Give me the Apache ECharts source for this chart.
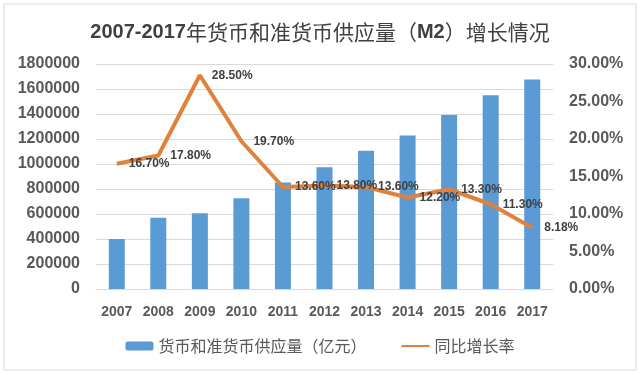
<!DOCTYPE html>
<html lang="zh">
<head>
    <meta charset="UTF-8">
    <title>M2增长情况</title>
    <script src="https://cdn.jsdelivr.net/npm/echarts@6/dist/echarts.min.js"></script>
    <style>
        html, body { margin: 0; padding: 0; background: #fff; }
        #chart { width: 640px; height: 375px; }
    </style>
</head>
<body>
    <div id="chart"></div>
    <script>
        // 年份
        var years = ['2007', '2008', '2009', '2010', '2011', '2012', '2013', '2014', '2015', '2016', '2017'];
        // 货币和准货币供应量（亿元）
        var m2Values = [400000, 570000, 606000, 726000, 852000, 974000, 1106000, 1228000, 1392000, 1550000, 1677000];
        // 同比增长率 (%)
        var growthRates = [16.7, 17.8, 28.5, 19.7, 13.6, 13.8, 13.6, 12.2, 13.3, 11.3, 8.18];

        var latin = 'Liberation Sans';
        var cjk = 'Noto Sans CJK SC';

        var myChart = echarts.init(document.getElementById('chart'));

        var option = {
            backgroundColor: '#fff',
            animation: false,
            graphic: [{
                type: 'rect',
                shape: { x: 4, y: 4, width: 632, height: 366 },
                style: { fill: 'none', stroke: '#d9d9d9', lineWidth: 1 },
                silent: true
            }],
            title: {
                text: '{b|2007-2017}{n|年货币和准货币供应量（}{b|M2}{n|）增长情况}',
                left: 'center',
                top: 17,
                textStyle: {
                    rich: {
                        b: { fontFamily: latin, fontWeight: 'bold', fontSize: 20, color: '#404040' },
                        n: { fontFamily: cjk, fontWeight: 'normal', fontSize: 21, color: '#404040' }
                    }
                }
            },
            legend: {
                bottom: 16,
                left: 'center',
                itemWidth: 28,
                itemHeight: 9,
                itemGap: 34,
                textStyle: { fontFamily: cjk, fontSize: 16, color: '#595959' },
                data: ['货币和准货币供应量（亿元）', '同比增长率']
            },
            grid: {
                left: 96,
                right: 87,
                top: 64,
                bottom: 86,
                outerBoundsMode: 'none'
            },
            xAxis: {
                type: 'category',
                data: years,
                axisLine: { show: true, lineStyle: { color: '#d9d9d9' } },
                axisTick: { show: false },
                axisLabel: {
                    fontFamily: latin, fontWeight: 'bold', fontSize: 14, color: '#595959', margin: 16
                }
            },
            yAxis: [{
                type: 'value',
                min: 0,
                max: 1800000,
                interval: 200000,
                axisLine: { show: false },
                axisTick: { show: false },
                splitLine: { lineStyle: { color: '#d9d9d9' } },
                axisLabel: {
                    fontFamily: latin, fontWeight: 'bold', fontSize: 16, color: '#595959', margin: 16,
                    formatter: function (v) { return String(v); }
                }
            }, {
                type: 'value',
                min: 0,
                max: 30,
                interval: 5,
                axisLine: { show: false },
                axisTick: { show: false },
                splitLine: { show: false },
                axisLabel: {
                    fontFamily: latin, fontWeight: 'bold', fontSize: 16, color: '#595959', margin: 16,
                    formatter: function (v) { return v.toFixed(2) + '%'; }
                }
            }],
            series: [{
                name: '货币和准货币供应量（亿元）',
                type: 'bar',
                barWidth: 16,
                itemStyle: { color: '#5b9bd5' },
                data: m2Values
            }, {
                name: '同比增长率',
                type: 'line',
                yAxisIndex: 1,
                symbol: 'circle',
                symbolSize: 2,
                showSymbol: true,
                lineStyle: { color: '#e0823d', width: 4 },
                itemStyle: { color: 'rgba(0,0,0,0)' },
                label: {
                    show: true,
                    position: 'right',
                    distance: 11,
                    fontFamily: latin,
                    fontWeight: 'bold',
                    fontSize: 12,
                    color: '#404040',
                    formatter: function (p) { return p.value.toFixed(2) + '%'; }
                },
                data: growthRates
            }]
        };

        myChart.setOption(option);
    </script>
</body>
</html>
